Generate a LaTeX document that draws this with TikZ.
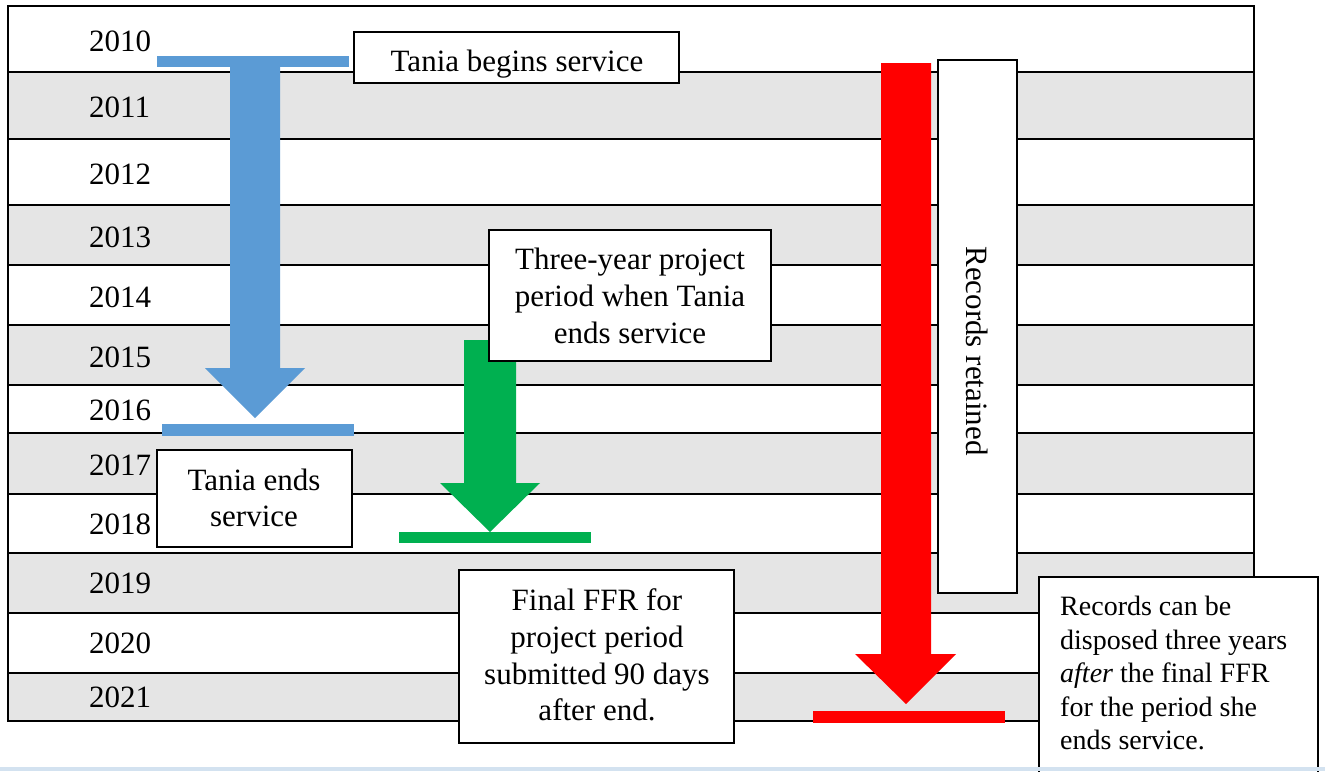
\documentclass[tikz,border=0pt]{standalone}
\usepackage{fontspec}
\setmainfont{Liberation Serif}
\definecolor{rowgray}{HTML}{E5E5E5}
\definecolor{arrblue}{HTML}{5B9BD5}
\definecolor{arrgreen}{HTML}{00B050}
\definecolor{arrred}{HTML}{FF0000}
\definecolor{pageblue}{HTML}{D3E2F0}
\tikzset{
  yearlbl/.style={anchor=west, inner sep=0pt, font=\fontsize{31}{37}\selectfont},
  boxst/.style={draw=black, line width=1.5pt, fill=white, inner sep=0pt},
  btext/.style={inner sep=0pt, align=center, font=\fontsize{31}{37}\selectfont},
  rowline/.style={line width=1.5pt},
}
\begin{document}
\begin{tikzpicture}[x=1pt,y=-1pt]
\useasboundingbox (0,0) rectangle (1325,771);
\fill[white] (0,0) rectangle (1325,771);
% gray rows
\foreach \a/\b in {72/139,205/265,325/385,433/494,553/613,673/721}
  \fill[rowgray] (8,\a) rectangle (1254,\b);
% row lines
\foreach \y in {72,139,205,265,325,385,433,494,553,613,673}
  \draw[rowline] (8,\y) -- (1254,\y);
\draw[line width=2pt] (8,6) rectangle (1254,721);
% year labels
\foreach \yr/\y in {2010/41,2011/107,2012/174,2013/237,2014/297,2015/357,2016/410,2017/465,2018/524,2019/583,2020/643,2021/697}
  \node[yearlbl] (y\yr) at (89,\y) {\yr};
% blue arrow
\fill[arrblue] (157,56) rectangle (349,67);
\fill[arrblue] (230,60) -- (280,60) -- (280,368) -- (305,368) -- (255,418) -- (205,368) -- (230,368) -- cycle;
\fill[arrblue] (162,424) rectangle (354,436);
% green arrow
\fill[arrgreen] (464,340) -- (516,340) -- (516,483) -- (540,483) -- (490,532) -- (440,483) -- (464,483) -- cycle;
\fill[arrgreen] (399,532) rectangle (591,543);
% red arrow
\fill[arrred] (881,63) -- (931,63) -- (931,654) -- (956,654) -- (906,704) -- (855,654) -- (881,654) -- cycle;
\fill[arrred] (813,711) rectangle (1005,723);
% boxes
\draw[boxst] (354,32) rectangle (679,83);
\begin{scope}
\clip (355,33) rectangle (678,82);
\node[btext] (tbegin) at (517,64) {Tania begins service};
\end{scope}
\draw[boxst] (489,230) rectangle (771,361);
\node[btext] (three) at (630,296) {Three-year project\\period when Tania\\ends service};
\draw[boxst] (157,450) rectangle (352,547);
\node[btext, font=\fontsize{31}{36}\selectfont] (tend) at (254,498) {Tania ends\\service};
\draw[boxst] (459,570) rectangle (734,743);
\node[btext, font=\fontsize{31}{36.7}\selectfont] (ffr) at (597,655) {Final FFR for\\project period\\submitted 90 days\\after end.};
\draw[boxst] (938,60) rectangle (1017,593);
\node[btext, rotate=-90] (retained) at (977,351) {Records retained};
\draw[boxst] (1039,577) rectangle (1318,790);
\node[inner sep=0pt, align=left, anchor=west, font=\fontsize{28}{33.5}\selectfont] (dispose) at (1060,673) {Records can be\\disposed three years\\\textit{after} the final FFR\\for the period she\\ends service.};
% page edge line
\fill[pageblue] (0,767) rectangle (1325,771);
\end{tikzpicture}
\end{document}
